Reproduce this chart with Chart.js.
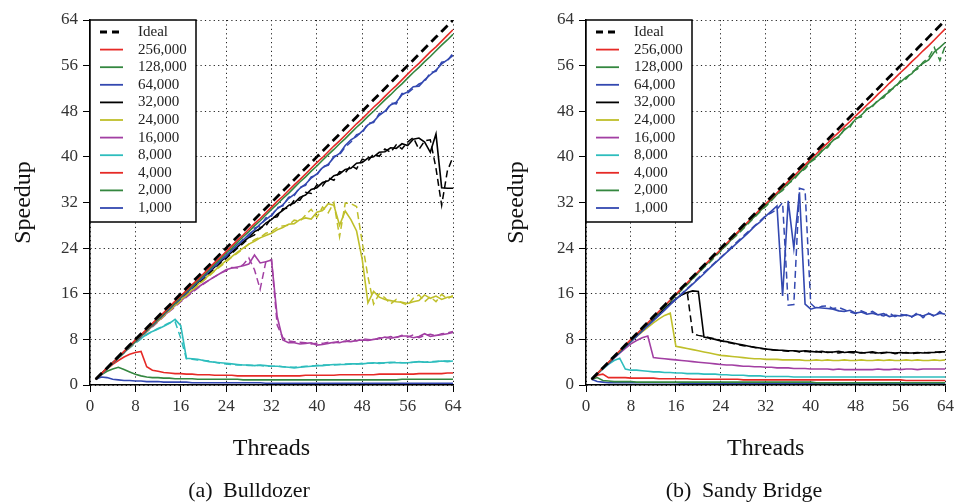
<!DOCTYPE html>
<html>
<head>
<meta charset="utf-8">
<script src="https://cdn.jsdelivr.net/npm/chart.js"></script>
<style>
  html, body { margin: 0; padding: 0; background: #fff; }
  #wrap { position: relative; width: 958px; height: 504px; overflow: hidden; }
  canvas { position: absolute; top: 0; }
  .caption {
    position: absolute; top: 477px; transform: translateX(-50%);
    font-family: 'Liberation Serif', serif; font-size: 22px; color: #111;
    white-space: nowrap;
  }
  .caption span { margin-right: 5px; }
</style>
</head>
<body>
<div id="wrap">
  <canvas id="bulldozer" width="479" height="504" style="left:0"></canvas>
  <canvas id="sandy" width="465" height="504" style="left:493px"></canvas>
  <div class="caption" style="left:249px"><span>(a)</span> Bulldozer</div>
  <div class="caption" style="left:744px"><span>(b)</span> Sandy Bridge</div>
</div>
<script>
// thread counts on the x axis
var threads = [
  1,2,3,4,5,6,7,8,9,10,11,12,13,14,15,16,
  17,18,19,20,21,22,23,24,25,26,27,28,29,30,31,32,
  33,34,35,36,37,38,39,40,41,42,43,44,45,46,47,48,
  49,50,51,52,53,54,55,56,57,58,59,60,61,62,63,64
];
var ideal = [
  1,2,3,4,5,6,7,8,9,10,11,12,13,14,15,16,
  17,18,19,20,21,22,23,24,25,26,27,28,29,30,31,32,
  33,34,35,36,37,38,39,40,41,42,43,44,45,46,47,48,
  49,50,51,52,53,54,55,56,57,58,59,60,61,62,63,64
];
var sizes = ['256,000','128,000','64,000','32,000','24,000','16,000','8,000','4,000','2,000','1,000'];
var ticksY = { min: 0, max: 64, step: 8 };

// ---- Bulldozer ----
var bd256 = [
  1.0,2.0,3.0,3.9,4.9,5.9,6.9,7.9,8.8,9.8,10.8,11.8,12.7,13.7,14.7,15.6,
  16.6,17.6,18.5,19.5,20.5,21.5,22.4,23.4,24.4,25.4,26.3,27.3,28.3,29.2,30.2,31.2,
  32.2,33.1,34.1,35.1,36.0,37.0,38.0,39.0,39.9,40.9,41.9,42.8,43.8,44.8,45.8,46.7,
  47.7,48.7,49.6,50.6,51.6,52.5,53.5,54.5,55.5,56.4,57.4,58.4,59.3,60.3,61.3,62.3
];
var bd128 = [
  1.0,2.0,2.9,3.9,4.8,5.8,6.8,7.7,8.7,9.6,10.6,11.6,12.5,13.5,14.4,15.4,
  16.4,17.3,18.3,19.2,20.2,21.2,22.1,23.1,24.0,25.0,26.0,26.9,27.9,28.8,29.8,30.8,
  31.7,32.7,33.6,34.6,35.6,36.5,37.5,38.4,39.4,40.4,41.3,42.3,43.2,44.2,45.2,46.1,
  47.1,48.0,49.0,50.0,50.9,51.9,52.8,53.8,54.8,55.7,56.7,57.6,58.6,59.6,60.5,61.5
];
var bd64 = [
  1.0,1.9,2.9,3.9,4.8,5.8,6.7,7.7,8.6,9.6,10.5,11.5,12.4,13.4,14.3,15.3,
  16.2,17.1,18.1,19.0,19.9,20.9,21.8,22.7,23.6,24.6,25.4,26.4,27.2,28.2,29.0,29.8,
  30.9,31.6,32.7,33.4,34.5,35.2,36.3,37.0,38.1,38.7,39.9,40.6,42.0,43.0,43.6,44.5,
  45.6,46.2,47.3,48.0,49.1,49.6,50.9,51.4,52.3,52.4,53.5,54.4,55.2,56.3,57.0,57.8
];
var bd64b = [
  1.0,1.9,2.9,3.8,4.8,5.7,6.7,7.6,8.6,9.5,10.5,11.4,12.4,13.3,14.3,15.1,
  16.2,17.0,18.1,18.8,20.0,20.6,21.9,22.5,23.8,24.3,25.6,26.1,27.5,27.9,29.3,29.6,
  31.1,31.4,32.9,33.2,34.7,35.0,36.5,36.8,38.3,38.5,40.1,40.4,41.7,42.6,43.9,44.2,
  45.9,46.0,47.6,47.7,49.4,49.3,51.1,51.2,52.0,52.8,53.2,54.8,55.0,56.6,56.8,58.2
];
var bd32 = [
  1.0,2.0,2.9,3.9,4.8,5.8,6.8,7.7,8.7,9.6,10.6,11.5,12.5,13.4,14.4,15.3,
  16.2,17.1,18.0,18.9,19.8,20.7,21.6,22.5,23.3,24.2,25.1,25.9,26.9,27.4,28.4,29.0,
  29.9,30.6,31.5,31.9,32.9,33.3,34.3,34.6,35.5,35.8,36.7,37.0,37.8,38.0,38.9,39.0,
  39.8,40.0,40.8,40.9,41.6,41.5,42.3,42.0,43.1,43.3,42.6,40.8,44.0,34.6,34.5,34.5
];
var bd32b = [
  1.0,2.0,2.9,3.9,4.8,5.8,6.7,7.7,8.6,9.6,10.5,11.5,12.4,13.4,14.3,15.2,
  16.1,17.0,17.9,18.7,19.6,20.5,21.4,22.2,23.1,24.0,24.8,25.8,26.3,27.6,27.9,29.3,
  29.5,30.9,31.0,32.4,32.4,33.8,33.6,35.1,34.9,36.3,35.9,37.4,37.2,38.5,37.9,39.6,
  39.3,40.5,40.1,41.4,40.8,42.1,41.4,42.6,43.4,41.3,42.8,43.0,38.0,31.5,37.5,40.0
];
var bd24 = [
  1.0,1.9,2.9,3.8,4.8,5.7,6.7,7.6,8.5,9.5,10.4,11.3,12.2,13.2,14.0,14.9,
  15.8,16.7,17.6,18.4,19.3,20.1,21.0,21.8,22.5,23.3,24.0,24.7,25.2,25.8,26.2,26.6,
  27.2,27.6,28.2,28.3,29.0,29.3,29.1,30.3,30.6,31.8,31.5,28.0,30.5,29.0,27.0,22.0,
  14.4,16.4,15.4,15.0,14.8,14.6,14.5,14.3,14.6,14.8,15.8,15.2,15.6,15.0,15.4,15.5
];
var bd24b = [
  1.0,1.9,2.9,3.8,4.7,5.7,6.6,7.5,8.5,9.4,10.3,11.2,12.1,13.0,13.9,14.8,
  15.7,16.6,17.4,18.3,19.1,20.0,20.8,21.6,22.4,23.1,23.9,24.7,25.5,25.9,26.6,26.9,
  27.6,27.9,28.0,28.9,28.7,29.8,30.8,29.4,31.2,30.2,32.0,26.0,31.9,31.8,31.3,25.0,
  19.0,14.2,16.0,15.3,14.2,15.0,14.4,14.0,15.2,15.8,14.6,15.5,14.6,15.9,15.1,15.7
];
var bd16 = [
  1.0,1.9,2.9,3.8,4.8,5.7,6.6,7.6,8.5,9.4,10.3,11.2,12.1,13.0,13.9,14.7,
  15.6,16.4,17.1,17.8,18.4,19.0,19.6,20.2,20.5,20.7,20.9,21.2,22.8,21.4,21.6,21.9,
  12.0,7.9,7.4,7.4,7.2,7.3,7.4,7.0,7.1,7.3,7.5,7.4,7.7,7.6,7.8,7.9,
  7.8,8.0,8.1,8.4,8.2,8.4,8.6,8.6,8.3,8.5,9.0,8.5,8.7,8.8,9.0,9.2
];
var bd16b = [
  1.0,1.9,2.9,3.8,4.7,5.7,6.6,7.5,8.4,9.3,10.2,11.1,12.0,12.9,13.7,14.6,
  15.4,16.2,17.0,17.7,18.4,19.0,19.6,20.0,20.6,20.5,21.1,22.3,20.2,16.8,21.6,22.0,
  10.5,8.3,7.7,7.6,7.5,7.4,7.2,7.3,7.3,7.5,7.4,7.7,7.6,7.9,7.7,8.1,
  8.0,7.9,8.3,8.2,8.5,8.3,8.7,8.4,8.8,8.3,8.7,8.9,8.6,9.0,9.1,9.4
];
var bd8 = [
  1.0,1.9,2.9,3.8,4.7,5.7,6.6,7.5,8.2,8.9,9.4,9.8,10.3,10.8,11.5,10.4,
  4.7,4.6,4.5,4.3,4.1,4.0,3.9,3.8,3.7,3.6,3.5,3.5,3.4,3.5,3.4,3.3,
  3.3,3.2,3.1,3.0,3.1,3.2,3.3,3.4,3.4,3.5,3.6,3.6,3.6,3.7,3.7,3.7,
  3.8,3.9,3.8,3.9,4.0,3.9,3.9,3.9,4.0,4.1,4.0,4.0,4.1,4.2,4.1,4.2
];
var bd8b = [
  1.0,1.9,2.9,3.8,4.7,5.6,6.5,7.3,8.1,8.8,9.4,9.9,10.4,10.9,11.1,8.2,
  4.6,4.5,4.4,4.3,4.2,4.0,3.8,3.7,3.6,3.5,3.5,3.4,3.4,3.4,3.3,3.3,
  3.3,3.2,3.1,3.1,3.2,3.3,3.3,3.4,3.5,3.5,3.5,3.6,3.7,3.7,3.7,3.8,
  3.8,3.8,3.9,3.8,3.9,4.0,3.9,3.9,4.0,4.1,4.0,4.1,4.1,4.2,4.2,4.2
];
var bd4 = [
  1.0,1.9,2.8,3.6,4.3,4.9,5.4,5.7,5.9,3.2,2.6,2.4,2.2,2.1,2.0,2.0,
  1.9,1.9,1.8,1.8,1.8,1.7,1.7,1.7,1.7,1.6,1.6,1.6,1.6,1.6,1.6,1.6,
  1.6,1.6,1.6,1.6,1.6,1.7,1.7,1.7,1.7,1.7,1.7,1.8,1.8,1.8,1.8,1.8,
  1.8,1.8,1.9,1.9,1.9,1.9,1.9,1.9,1.9,2.0,2.0,2.0,2.0,2.0,2.1,2.1
];
var bd2 = [
  1.0,1.8,2.4,2.8,3.1,2.7,2.3,1.9,1.6,1.4,1.3,1.3,1.2,1.2,1.1,1.1,
  1.1,1.1,1.0,1.0,1.0,1.0,1.0,1.0,1.0,1.0,0.9,0.9,0.9,0.9,0.9,0.9,
  0.9,0.9,0.9,0.9,0.9,0.9,0.9,0.9,0.9,0.9,0.9,0.9,0.9,0.9,0.9,0.9,
  0.9,0.9,0.9,0.9,0.9,0.9,1.0,1.0,1.0,1.0,1.0,1.0,1.0,1.0,1.0,1.0
];
var bd1 = [
  1.0,1.4,1.3,1.0,0.9,0.8,0.8,0.7,0.7,0.6,0.6,0.6,0.5,0.5,0.5,0.5,
  0.5,0.4,0.4,0.4,0.4,0.4,0.4,0.4,0.4,0.4,0.4,0.4,0.4,0.4,0.3,0.3,
  0.3,0.3,0.3,0.3,0.3,0.3,0.3,0.3,0.3,0.3,0.3,0.3,0.3,0.3,0.3,0.3,
  0.3,0.3,0.3,0.3,0.3,0.3,0.3,0.3,0.3,0.3,0.3,0.3,0.3,0.3,0.3,0.3
];

// ---- Sandy Bridge ----
var sb256 = [
  1.0,2.0,3.0,4.0,5.0,6.0,7.0,8.0,8.9,9.9,10.9,11.9,12.9,13.9,14.9,15.9,
  16.9,17.9,18.9,19.9,20.9,21.9,22.8,23.8,24.8,25.8,26.8,27.8,28.8,29.8,30.8,31.8,
  32.7,33.7,34.7,35.7,36.6,37.6,38.6,39.6,40.5,41.5,42.4,43.4,44.3,45.3,46.2,47.2,
  48.1,49.1,50.0,51.0,51.9,52.9,53.8,54.8,55.7,56.7,57.6,58.6,59.5,60.5,61.5,62.5
];
var sb128 = [
  1.0,2.0,3.0,3.9,4.9,5.9,6.9,7.9,8.9,9.8,10.8,11.8,12.8,13.8,14.8,15.8,
  16.7,17.7,18.7,19.7,20.7,21.7,22.7,23.6,24.6,25.6,26.6,27.6,28.6,29.5,30.5,31.5,
  32.5,33.4,34.4,35.3,36.3,37.2,38.2,39.3,40.0,41.0,41.9,42.9,43.6,44.7,45.5,46.6,
  47.3,48.3,49.0,49.8,50.7,51.4,52.4,53.1,54.0,54.6,55.7,56.4,57.0,58.4,59.2,60.1
];
var sb128b = [
  1.0,2.0,2.9,3.9,4.9,5.9,6.8,7.8,8.8,9.8,10.8,11.7,12.7,13.7,14.7,15.7,
  16.6,17.6,18.6,19.6,20.6,21.5,22.5,23.5,24.5,25.5,26.4,27.4,28.4,29.4,30.4,31.3,
  32.3,33.4,34.1,35.3,36.0,37.2,37.9,39.1,39.8,41.1,41.6,43.0,43.4,44.9,45.2,46.8,
  47.0,48.5,48.8,50.0,50.4,51.7,52.1,53.4,53.7,54.9,55.4,56.6,57.4,59.2,56.9,59.6
];
var sb64 = [
  1.0,1.9,2.9,3.8,4.8,5.7,6.7,7.6,8.5,9.5,10.4,11.3,12.2,13.1,14.1,15.0,
  15.9,16.8,17.7,18.6,19.5,20.5,21.4,22.3,23.2,24.1,25.0,25.9,26.8,27.8,28.6,29.6,
  30.5,31.4,15.6,32.3,24.0,33.8,14.2,13.3,13.6,13.5,13.4,13.3,13.0,12.9,13.1,12.6,
  12.8,12.4,12.6,12.3,12.5,12.0,12.2,12.1,12.3,12.0,12.4,12.1,12.5,12.2,12.6,12.4
];
var sb64b = [
  1.0,1.9,2.9,3.8,4.8,5.7,6.7,7.6,8.6,9.5,10.4,11.4,12.3,13.2,14.2,15.1,
  16.0,16.9,17.8,18.8,19.7,20.6,21.5,22.4,23.3,24.3,25.2,26.1,27.0,27.9,28.8,29.7,
  30.2,30.8,32.0,14.0,14.1,34.5,34.2,14.3,13.4,13.8,13.9,13.4,13.6,13.2,12.8,12.5,
  13.0,12.6,12.9,12.3,12.1,12.6,12.0,12.4,12.2,11.9,12.7,11.8,12.6,12.0,12.9,12.0
];
var sb32 = [
  1.0,2.0,2.9,3.9,4.9,5.8,6.8,7.7,8.7,9.6,10.6,11.5,12.5,13.4,14.3,15.1,
  15.8,16.2,16.5,16.4,8.4,8.2,8.0,7.7,7.6,7.4,7.2,7.0,6.8,6.6,6.5,6.3,
  6.2,6.1,6.1,6.0,6.0,5.9,6.0,5.9,5.8,5.9,5.7,5.8,5.9,5.7,5.8,5.8,
  5.6,5.7,5.8,5.6,5.7,5.7,5.6,5.7,5.6,5.6,5.7,5.6,5.7,5.7,5.8,5.8
];
var sb32b = [
  1.0,2.0,2.9,3.9,4.8,5.8,6.7,7.7,8.6,9.6,10.5,11.5,12.4,13.3,14.2,15.1,
  15.8,16.4,9.0,8.7,8.5,8.3,8.1,7.8,7.5,7.3,7.1,6.9,6.8,6.6,6.4,6.3,
  6.2,6.1,6.0,5.9,6.0,5.8,5.9,5.8,5.9,5.7,5.8,5.7,5.6,5.8,5.7,5.6,
  5.7,5.6,5.7,5.5,5.6,5.8,5.5,5.6,5.7,5.5,5.6,5.7,5.6,5.8,5.7,5.9
];
var sb24 = [
  1.0,2.0,2.9,3.9,4.8,5.8,6.7,7.6,8.5,9.3,10.1,10.9,11.6,12.2,12.6,6.8,
  6.6,6.4,6.2,6.0,5.8,5.6,5.4,5.2,5.1,5.0,4.9,4.8,4.7,4.6,4.6,4.5,
  4.5,4.5,4.4,4.4,4.4,4.4,4.3,4.3,4.4,4.3,4.4,4.3,4.3,4.4,4.3,4.3,
  4.4,4.3,4.3,4.4,4.3,4.4,4.3,4.3,4.4,4.3,4.4,4.3,4.3,4.4,4.3,4.4
];
var sb16 = [
  1.0,2.0,2.9,3.8,4.7,5.6,6.4,7.2,7.8,8.3,8.6,4.8,4.7,4.6,4.5,4.4,
  4.3,4.2,4.1,4.0,3.9,3.8,3.7,3.6,3.5,3.5,3.4,3.3,3.3,3.2,3.2,3.1,
  3.1,3.0,3.0,3.0,2.9,2.9,2.9,2.8,2.8,2.8,2.8,2.7,2.8,2.7,2.7,2.7,
  2.7,2.7,2.7,2.8,2.7,2.7,2.8,2.7,2.8,2.8,2.7,2.8,2.8,2.8,2.8,2.8
];
var sb8 = [
  1.0,1.9,2.8,3.6,4.3,4.7,2.8,2.6,2.6,2.5,2.4,2.3,2.3,2.2,2.2,2.1,
  2.1,2.0,2.0,2.0,1.9,1.9,1.9,1.8,1.8,1.7,1.7,1.7,1.6,1.6,1.6,1.5,
  1.5,1.5,1.5,1.5,1.4,1.4,1.4,1.4,1.4,1.4,1.4,1.4,1.4,1.4,1.4,1.4,
  1.4,1.4,1.4,1.4,1.4,1.4,1.4,1.4,1.4,1.4,1.4,1.4,1.4,1.4,1.4,1.4
];
var sb4 = [
  1.0,1.7,1.9,1.3,1.3,1.3,1.3,1.2,1.2,1.2,1.2,1.2,1.1,1.1,1.1,1.1,
  1.1,1.1,1.0,1.0,1.0,1.0,1.0,1.0,1.0,1.0,1.0,0.9,0.9,0.9,0.9,0.9,
  0.9,0.9,0.9,0.9,0.9,0.9,0.9,0.9,0.9,0.9,0.9,0.9,0.9,0.9,0.9,0.9,
  0.9,0.9,0.9,0.9,0.9,0.9,0.9,0.9,0.8,0.8,0.8,0.8,0.8,0.8,0.8,0.8
];
var sb2 = [
  1.0,1.3,0.8,0.7,0.6,0.6,0.6,0.6,0.5,0.5,0.5,0.5,0.5,0.5,0.5,0.5,
  0.5,0.5,0.5,0.5,0.5,0.5,0.5,0.5,0.5,0.5,0.5,0.5,0.5,0.5,0.5,0.5,
  0.5,0.5,0.5,0.5,0.5,0.5,0.5,0.5,0.4,0.4,0.4,0.4,0.4,0.4,0.4,0.4,
  0.4,0.4,0.4,0.4,0.4,0.4,0.4,0.4,0.4,0.4,0.4,0.4,0.4,0.4,0.4,0.4
];
var sb1 = [
  1.0,0.6,0.5,0.4,0.4,0.4,0.4,0.4,0.4,0.4,0.4,0.4,0.4,0.4,0.4,0.4,
  0.3,0.3,0.3,0.3,0.3,0.3,0.3,0.3,0.3,0.3,0.3,0.3,0.3,0.3,0.3,0.3,
  0.3,0.3,0.3,0.3,0.3,0.3,0.3,0.3,0.3,0.3,0.3,0.3,0.3,0.3,0.3,0.3,
  0.3,0.3,0.3,0.3,0.3,0.3,0.3,0.3,0.3,0.3,0.3,0.3,0.3,0.3,0.3,0.3
];

var colors = ['#e62a26','#34873f','#3348b0','#000000','#bfbf2a','#a23fa3','#2ebdbd','#e62a26','#34873f','#3348b0'];
var SERIF = "'Liberation Serif', 'Times New Roman', serif";

Chart.defaults.font.family = SERIF;

function pts(vals) {
  return threads.map(function (t, i) { return { x: t, y: vals[i] }; });
}

// solid run plus optional second (dashed) run for each input size
function buildDatasets(solid, second) {
  var sets = [{
    label: 'Ideal', data: pts(ideal),
    borderColor: '#000', borderWidth: 2.8, borderDash: [9, 5]
  }];
  solid.forEach(function (vals, i) {
    sets.push({ label: sizes[i], data: pts(vals), borderColor: colors[i], borderWidth: 1.6 });
    if (second[i]) {
      sets.push({ label: '', data: pts(second[i]), borderColor: colors[i], borderWidth: 1.5, borderDash: [7, 4] });
    }
  });
  return sets;
}

// framed legend in the upper-left corner of the plot area
var boxLegend = {
  id: 'boxLegend',
  afterDatasetsDraw: function (chart) {
    var ctx = chart.ctx, area = chart.chartArea;
    var items = chart.data.datasets.filter(function (d) { return d.label; });
    var x0 = area.left, y0 = area.top, w = 106, h = 202, rowH = 17.6;
    ctx.save();
    ctx.fillStyle = '#fff';
    ctx.fillRect(x0, y0, w, h);
    ctx.lineWidth = 1.5;
    ctx.strokeStyle = '#000';
    ctx.strokeRect(x0, y0, w, h);
    ctx.font = '15px ' + SERIF;
    ctx.textBaseline = 'middle';
    items.forEach(function (d, i) {
      var y = y0 + 12 + i * rowH;
      ctx.beginPath();
      ctx.setLineDash(d.borderDash ? [7, 5] : []);
      ctx.lineWidth = d.borderDash ? 2.8 : 1.8;
      ctx.strokeStyle = d.borderColor;
      ctx.moveTo(x0 + 10, y);
      ctx.lineTo(x0 + 33, y);
      ctx.stroke();
      ctx.setLineDash([]);
      ctx.fillStyle = '#222';
      ctx.fillText(d.label, x0 + 48, y);
    });
    ctx.restore();
  }
};

function axisOpts(titleText, isX, fitSize) {
  var o = {
    type: 'linear', min: ticksY.min, max: ticksY.max,
    ticks: { stepSize: ticksY.step, padding: 5, color: '#333', font: { size: 17 } },
    grid: { color: '#222', lineWidth: 1, tickLength: 7, tickColor: '#000', tickWidth: 1 },
    border: { display: true, color: '#000', width: 1.5, dash: [1.2, 3.2] },
    title: { display: true, text: titleText, color: '#111', font: { size: 24 } }
  };
  if (isX) {
    o.ticks.padding = 4;
    o.title.padding = { top: 0, bottom: 41 };
    o.afterFit = function (s) { s.height = fitSize; };
  } else {
    o.title.padding = { top: 9, bottom: 0 };
    o.afterFit = function (s) { s.width = fitSize; };
  }
  return o;
}

function makeChart(id, datasets, yWidth, rightPad) {
  return new Chart(document.getElementById(id), {
    type: 'line',
    data: { datasets: datasets },
    options: {
      responsive: false,
      animation: false,
      layout: { padding: { left: 0, right: rightPad, top: 20, bottom: 0 } },
      elements: { point: { radius: 0 }, line: { tension: 0, borderCapStyle: 'butt' } },
      plugins: { legend: { display: false }, tooltip: { enabled: false } },
      scales: {
        x: axisOpts('Threads', true, 119),
        y: axisOpts('Speedup', false, yWidth)
      }
    },
    plugins: [boxLegend]
  });
}

makeChart('bulldozer',
  buildDatasets([bd256, bd128, bd64, bd32, bd24, bd16, bd8, bd4, bd2, bd1],
                { 2: bd64b, 3: bd32b, 4: bd24b, 5: bd16b, 6: bd8b }),
  90, 26);

makeChart('sandy',
  buildDatasets([sb256, sb128, sb64, sb32, sb24, sb16, sb8, sb4, sb2, sb1],
                { 1: sb128b, 2: sb64b, 3: sb32b }),
  93, 9);
</script>
</body>
</html>
